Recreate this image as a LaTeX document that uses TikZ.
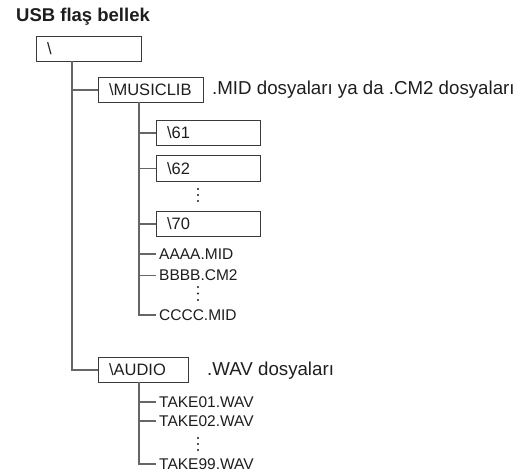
\documentclass[tikz,border=0pt]{standalone}
\usepackage{fontspec}
\setmainfont{Liberation Sans}
\definecolor{linec}{HTML}{666666}
\definecolor{boxc}{HTML}{3A3A3A}
\definecolor{txtc}{HTML}{1E1E1E}
\newcommand{\boxfont}{\fontsize{16.5}{19}\selectfont}
\newcommand{\leaffont}{\fontsize{15.5}{18}\selectfont}
\newcommand{\labfont}{\fontsize{18.7}{21}\selectfont}
\begin{document}
\begin{tikzpicture}[x=1pt,y=-1pt,
  dirbox/.style={draw=boxc, line width=1pt, minimum height=25pt, inner xsep=10.5pt, inner ysep=0pt,
    anchor=north west, align=left, font=\boxfont, text=txtc},
  leaf/.style={anchor=west, inner xsep=3pt, inner ysep=1pt, font=\leaffont, text=txtc},
  lab/.style={anchor=base west, inner sep=0pt, font=\labfont, text=txtc},
  tree/.style={draw=linec, line width=1.4pt},
  dot/.style={fill=txtc, draw=none}]
\useasboundingbox (0,0) rectangle (532,473);
% title
\node[anchor=base west, inner sep=0pt, font=\fontsize{18.5}{21}\selectfont\bfseries, text=txtc] (title) at (16,22) {USB flaş bellek};
% boxes
\node[dirbox, text width=84pt] (root) at (36,36) {\textbackslash};
\node[dirbox, text width=84pt] (music) at (98,77) {\textbackslash MUSICLIB};
\node[dirbox, text width=83pt] (b61) at (156,120) {\textbackslash 61};
\node[dirbox, text width=83pt] (b62) at (156,155.5) {\textbackslash 62};
\node[dirbox, text width=83pt] (b70) at (156,211) {\textbackslash 70};
\node[dirbox, text width=69pt] (audio) at (98,357) {\textbackslash AUDIO};
% labels
\node[lab] (mlab) at (212,95) {.MID dosyaları ya da .CM2 dosyaları};
\node[lab] (alab) at (207,375.5) {.WAV dosyaları};
% leaves
\node[leaf] (aaaa) at (156,254) {AAAA.MID};
\node[leaf] (bbbb) at (156,275.5) {BBBB.CM2};
\node[leaf] (cccc) at (156,315) {CCCC.MID};
\node[leaf] (t01) at (156,402) {TAKE01.WAV};
\node[leaf] (t02) at (156,421) {TAKE02.WAV};
\node[leaf] (t99) at (156,464) {TAKE99.WAV};
% connector origins
\coordinate (r0) at (72,61);
\coordinate (m0) at (139,102);
\coordinate (a0) at (139,382);
% tree lines
\draw[tree] (r0) |- (audio.west);
\draw[tree] (r0 |- music.west) -- (music.west);
\draw[tree] (m0) |- (cccc.west);
\draw[tree] (m0 |- b61.west) -- (b61.west);
\draw[tree] (m0 |- b62.west) -- (b62.west);
\draw[tree] (m0 |- b70.west) -- (b70.west);
\draw[tree] (m0 |- aaaa.west) -- (aaaa.west);
\draw[tree] (m0 |- bbbb.west) -- (bbbb.west);
\draw[tree] (a0) |- (t99.west);
\draw[tree] (a0 |- t01.west) -- (t01.west);
\draw[tree] (a0 |- t02.west) -- (t02.west);
% ellipsis dots
\foreach \y in {189,195,201} \fill[dot] (198,\y) circle (1.2);
\foreach \y in {287,293.5,300} \fill[dot] (198,\y) circle (1.2);
\foreach \y in {438,444,450} \fill[dot] (198,\y) circle (1.2);
\end{tikzpicture}
\end{document}
